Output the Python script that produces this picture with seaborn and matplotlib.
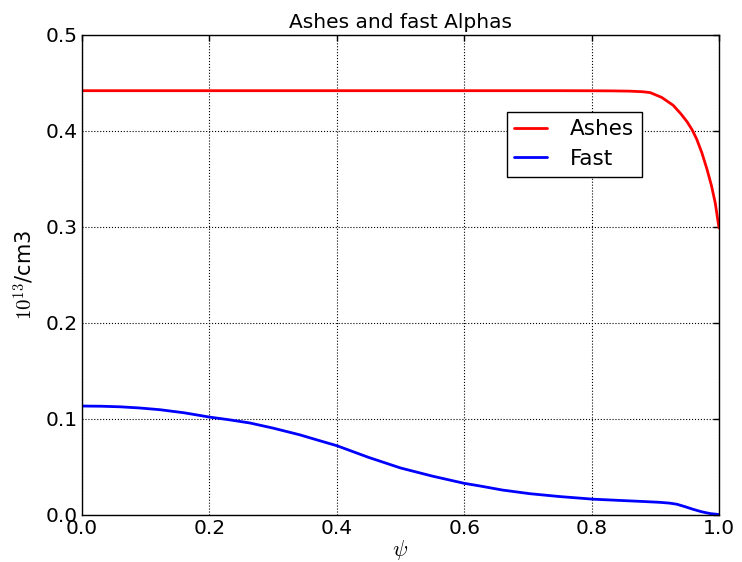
import matplotlib
matplotlib.use("Agg")
import matplotlib.pyplot as plt
import seaborn as sns
import pandas as pd

# Data
psi_ashes = [0.0, 0.2, 0.4, 0.6, 0.75, 0.8, 0.83, 0.86, 0.88, 0.892, 0.91, 0.928, 0.94, 0.95, 0.958,
             0.965, 0.973, 0.981, 0.988, 0.994, 1.0]
ashes = [0.442, 0.442, 0.442, 0.442, 0.442, 0.4419, 0.4418, 0.4415, 0.4409, 0.4400, 0.4350, 0.4268,
         0.418, 0.4095, 0.401, 0.3915, 0.3775, 0.3605, 0.3435, 0.3255, 0.299]

psi_fast = [0.0, 0.03, 0.06, 0.09, 0.122, 0.16, 0.2, 0.23, 0.264, 0.3, 0.342, 0.37, 0.4, 0.45, 0.5,
            0.55, 0.6, 0.625, 0.66, 0.703, 0.75, 0.802, 0.85, 0.88, 0.907, 0.922, 0.934, 0.946,
            0.959, 0.972, 0.986, 1.0]
fast = [0.1135, 0.1133, 0.1127, 0.1115, 0.1097, 0.1065, 0.102, 0.0993, 0.0958, 0.0905, 0.0835,
        0.0780, 0.0722, 0.0600, 0.0490, 0.0405, 0.0330, 0.0302, 0.0260, 0.0222, 0.0192, 0.0165,
        0.0150, 0.0141, 0.0132, 0.0124, 0.0112, 0.0088, 0.0060, 0.0035, 0.0015, 0.0005]

title = "Ashes and fast Alphas"
xlabel = r"$\psi$"
ylabel = r"$10^{13}$/cm3"
labels = ["Ashes", "Fast"]

sns.set_style("white")
plt.rcParams.update({
    "mathtext.fontset": "cm",
    "xtick.direction": "in",
    "ytick.direction": "in",
    "xtick.top": True,
    "ytick.right": True,
    "xtick.major.size": 4,
    "ytick.major.size": 4,
    "axes.edgecolor": "black",
    "axes.linewidth": 1.0,
    "text.color": "black",
    "axes.labelcolor": "black",
})
plt.rcParams["font.family"] = ["DejaVu Sans"]

df = pd.concat([
    pd.DataFrame({"psi": psi_ashes, "val": ashes, "series": labels[0]}),
    pd.DataFrame({"psi": psi_fast, "val": fast, "series": labels[1]}),
])

fig = plt.figure(figsize=(7.42, 5.62), dpi=100)
ax = fig.add_axes([82/742, 1 - 515/562, (719-82)/742, (515-35)/562])

sns.lineplot(data=df, x="psi", y="val", hue="series", palette={"Ashes": "#ff0000", "Fast": "#0000ff"},
             estimator=None, sort=True, linewidth=2.0, ax=ax)

ax.set_xlim(0, 1)
ax.set_ylim(0, 0.5)
ax.set_xticks([0.0, 0.2, 0.4, 0.6, 0.8, 1.0])
ax.set_yticks([0.0, 0.1, 0.2, 0.3, 0.4, 0.5])
ax.tick_params(labelsize=14.5, colors="black", pad=3, width=1)
ax.grid(True, linestyle=":", color="black", linewidth=0.8)
ax.set_title(title, fontsize=14.5, color="black", pad=5)
ax.set_xlabel(xlabel, fontsize=16, labelpad=0)
ax.set_ylabel(ylabel, fontsize=15, labelpad=6)
for s in ax.spines.values():
    s.set_visible(True)
    s.set_color("black")

leg = ax.legend(loc="upper right", bbox_to_anchor=(0.879, 0.84), borderaxespad=0,
                fontsize=15.5, frameon=True, fancybox=False, framealpha=1,
                edgecolor="black", handlelength=1.5, handletextpad=1.1, borderpad=0.35,
                labelspacing=0.45, title=None)
leg.get_frame().set_linewidth(1.0)

fig.savefig("out.png", dpi=100)
